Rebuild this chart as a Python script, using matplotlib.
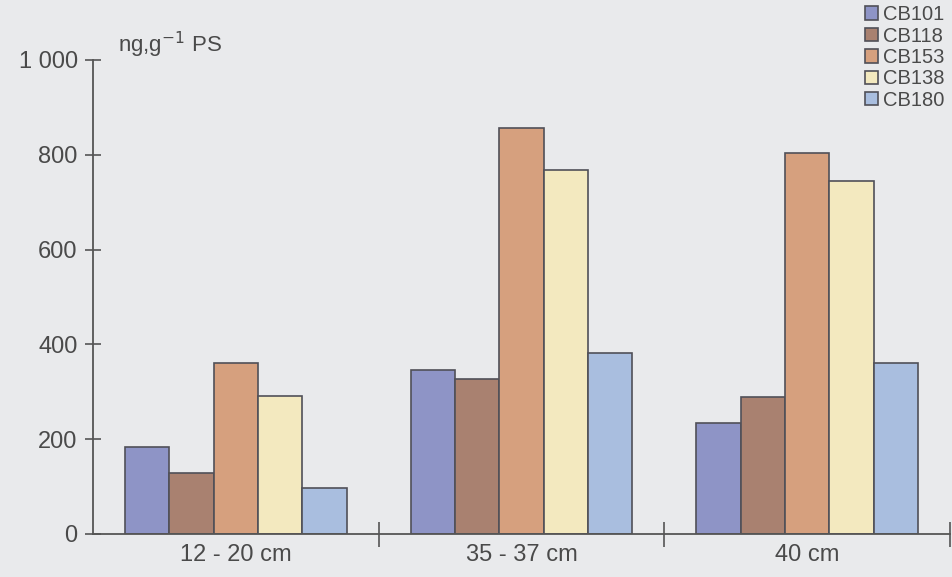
import matplotlib
matplotlib.use("Agg")
import matplotlib.pyplot as plt
import numpy as np

categories = ["12 - 20 cm", "35 - 37 cm", "40 cm"]
series = ["CB101", "CB118", "CB153", "CB138", "CB180"]
cb101 = [184, 345, 234]
cb118 = [128, 326, 289]
cb153 = [360, 856, 803]
cb138 = [291, 768, 745]
cb180 = [98, 381, 360]
values = [cb101, cb118, cb153, cb138, cb180]
colors = ["#8e94c6", "#a98170", "#d6a07e", "#f3e9bf", "#a9bedf"]
yticks = [0, 200, 400, 600, 800, 1000]
ytick_labels = ["0", "200", "400", "600", "800", "1 000"]

plt.rcParams['font.family'] = ['Liberation Sans', 'DejaVu Sans']
bg = "#e9eaec"
ink = "#4a4a4a"

fig = plt.figure(figsize=(9.52, 5.77), dpi=100, facecolor=bg)
ax = fig.add_axes([93/952, (577-534)/577, (950-93)/952, (534-60)/577])
ax.set_facecolor(bg)

x = np.arange(len(categories))
w = 0.155
handles = []
for i, (name, vals, c) in enumerate(zip(series, values, colors)):
    b = ax.bar(x + (i - 2) * w, vals, width=w, color=c, edgecolor="#505058",
               linewidth=1.2, label=name, zorder=2)
    handles.append(b)

ax.set_xlim(-0.5, 2.5)
ax.set_ylim(0, 1000)
for s in ["top", "right"]:
    ax.spines[s].set_visible(False)
for s in ["left", "bottom"]:
    ax.spines[s].set_color("#555555")
    ax.spines[s].set_linewidth(1.3)

ax.set_yticks(yticks)
ax.set_yticklabels(ytick_labels)
ax.tick_params(axis="y", direction="inout", length=12, width=1.2, color="#555555",
               labelsize=17, labelcolor=ink, pad=5)

ax.set_xticks([0.5, 1.5, 2.5])
ax.set_xticklabels([])
ax.set_xticks(x, minor=True)
ax.set_xticklabels(categories, minor=True)
ax.tick_params(axis="x", which="major", direction="inout", length=18, width=1.2, color="#555555")
ax.tick_params(axis="x", which="minor", length=0, labelsize=17, labelcolor=ink, pad=7)

fig.text(118/952, 1 - 45/577, r"ng,g$^{-1}$ PS", fontsize=16, color=ink, va="center", ha="left")

fig.legend(handles=handles, labels=series, loc="upper right", bbox_to_anchor=(1.005, 1.012),
           frameon=False, fontsize=14.5, labelcolor=ink, handlelength=0.65, handleheight=0.65,
           handletextpad=0.25, labelspacing=0.12, borderaxespad=0.2)

fig.savefig("out.png", dpi=100, facecolor=bg)
